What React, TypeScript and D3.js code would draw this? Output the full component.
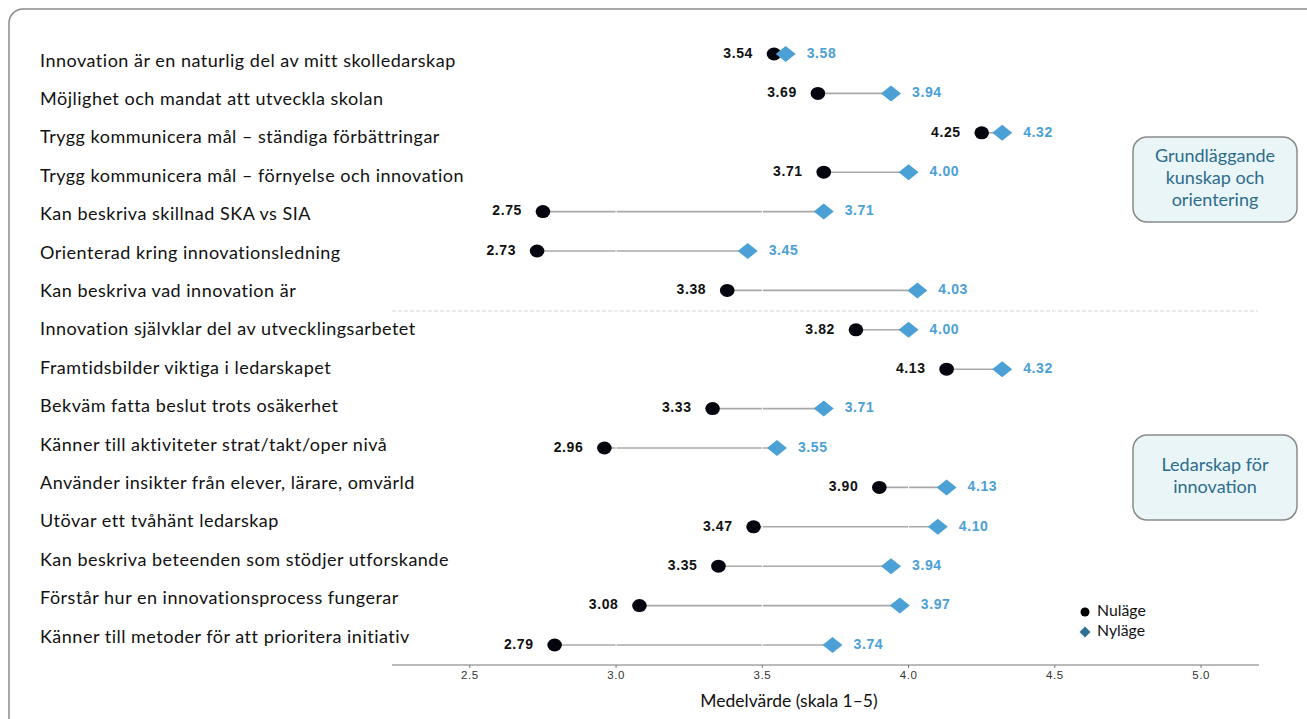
import React from "react";
import * as d3 from "d3";

const labels = [
  "Innovation är en naturlig del av mitt skolledarskap",
  "Möjlighet och mandat att utveckla skolan",
  "Trygg kommunicera mål – ständiga förbättringar",
  "Trygg kommunicera mål – förnyelse och innovation",
  "Kan beskriva skillnad SKA vs SIA",
  "Orienterad kring innovationsledning",
  "Kan beskriva vad innovation är",
  "Innovation självklar del av utvecklingsarbetet",
  "Framtidsbilder viktiga i ledarskapet",
  "Bekväm fatta beslut trots osäkerhet",
  "Känner till aktiviteter strat/takt/oper nivå",
  "Använder insikter från elever, lärare, omvärld",
  "Utövar ett tvåhänt ledarskap",
  "Kan beskriva beteenden som stödjer utforskande",
  "Förstår hur en innovationsprocess fungerar",
  "Känner till metoder för att prioritera initiativ",
];
const nulage = [3.54, 3.69, 4.25, 3.71, 2.75, 2.73, 3.38, 3.82, 4.13, 3.33, 2.96, 3.9, 3.47, 3.35, 3.08, 2.79];
const nylage = [3.58, 3.94, 4.32, 4.0, 3.71, 3.45, 4.03, 4.0, 4.32, 3.71, 3.55, 4.13, 4.1, 3.94, 3.97, 3.74];
const ticks = [2.5, 3.0, 3.5, 4.0, 4.5, 5.0];
const groups = [
  { lines: ["Grundläggande", "kunskap och", "orientering"], y: 137, h: 85 },
  { lines: ["Ledarskap för", "innovation"], y: 435, h: 85 },
];
const legend = ["Nuläge", "Nyläge"];

export default function App() {
  const x = d3.scaleLinear().domain([2.234, 5.198]).range([392, 1259]);
  const idx = labels.map((_, i) => i);
  const yPt = d3.scalePoint<number>().domain(idx).range([54, 645]);
  const yLab = d3.scalePoint<number>().domain(idx).range([62, 638]);
  const fmt = d3.format(".2f");
  const blue = "#4ba0d6";
  const diamond = (cx: number, cy: number, w: number, h: number) =>
    `M${cx},${cy - h / 2}L${cx + w / 2},${cy}L${cx},${cy + h / 2}L${cx - w / 2},${cy}Z`;
  const axisY = 665;

  return (
    <svg width={1307} height={719} style={{ position: "absolute", left: 0, top: 0, background: "#fff" }}>
      <rect x={9} y={9} width={1320} height={740} rx={14} fill="#fff" stroke="#8c8c8c" strokeWidth={1.5} />
      {/* labels */}
      {labels.map((l, i) => (
        <text key={"l" + i} x={40} y={yLab(i)} dominantBaseline="middle" fontFamily="Lato" fontSize={18} letterSpacing={0.5} fill="#111">
          {l}
        </text>
      ))}
      {/* separator */}
      <line x1={392} x2={1258} y1={311} y2={311} stroke="#d4d4d4" strokeWidth={1} strokeDasharray="4,2" />
      {/* connectors */}
      {idx.map((i) => (
        <line key={"c" + i} x1={x(nulage[i])} x2={x(nylage[i])} y1={yPt(i)} y2={yPt(i)} stroke="#a8a8a8" strokeWidth={1.6} />
      ))}
      {/* white gridlines */}
      {ticks.map((t) => (
        <line key={"g" + t} x1={x(t)} x2={x(t)} y1={30} y2={axisY - 5} stroke="#fff" strokeWidth={1} />
      ))}
      {/* points */}
      {idx.map((i) => (
        <g key={"p" + i}>
          <ellipse cx={x(nulage[i])} cy={yPt(i)} rx={7.3} ry={6.5} fill="#05050f" />
          <path d={diamond(x(nylage[i]), yPt(i), 20, 16)} fill={blue} />
          <text x={x(nulage[i]) - 21} y={yPt(i)} textAnchor="end" dominantBaseline="middle" fontFamily="Liberation Sans, Arial" fontWeight="bold" fontSize={14} letterSpacing={0.6} fill="#111">
            {fmt(nulage[i])}
          </text>
          <text x={x(nylage[i]) + 21} y={yPt(i)} dominantBaseline="middle" fontFamily="Liberation Sans, Arial" fontWeight="bold" fontSize={14} letterSpacing={0.6} fill={blue}>
            {fmt(nylage[i])}
          </text>
        </g>
      ))}
      {/* axis */}
      <line x1={392} x2={1259} y1={axisY} y2={axisY} stroke="#777" strokeWidth={1.2} />
      {ticks.map((t) => (
        <g key={"t" + t}>
          <line x1={x(t)} x2={x(t)} y1={axisY} y2={axisY + 3} stroke="#777" strokeWidth={1} />
          <text x={x(t)} y={axisY + 11} textAnchor="middle" dominantBaseline="middle" fontFamily="Liberation Sans, Arial" fontSize={11.5} letterSpacing={0.6} fill="#333">
            {d3.format(".1f")(t)}
          </text>
        </g>
      ))}
      <text x={789} y={703} textAnchor="middle" dominantBaseline="middle" fontFamily="Lato" fontSize={17.5} fill="#111">
        Medelvärde (skala 1–5)
      </text>
      {/* group boxes */}
      {groups.map((g, gi) => {
        const lh = 22;
        const cy = g.y + g.h / 2;
        const start = cy - ((g.lines.length - 1) * lh) / 2;
        return (
          <g key={"b" + gi}>
            <rect x={1133} y={g.y} width={164} height={g.h} rx={14} fill="#e9f5f6" stroke="#8a8a8a" strokeWidth={1.5} />
            {g.lines.map((ln, li) => (
              <text key={li} x={1215} y={start + li * lh} textAnchor="middle" dominantBaseline="middle" fontFamily="Lato" fontSize={18} fill="#2d6c8c">
                {ln}
              </text>
            ))}
          </g>
        );
      })}
      {/* legend */}
      <circle cx={1085} cy={612} r={4.5} fill="#000" />
      <path d={diamond(1085, 632, 11, 11)} fill="#2e6f96" />
      {legend.map((l, i) => (
        <text key={l} x={1097} y={612 + i * 20} dominantBaseline="middle" fontFamily="Lato" fontSize={15.8} fill="#111">
          {l}
        </text>
      ))}
    </svg>
  );
}
